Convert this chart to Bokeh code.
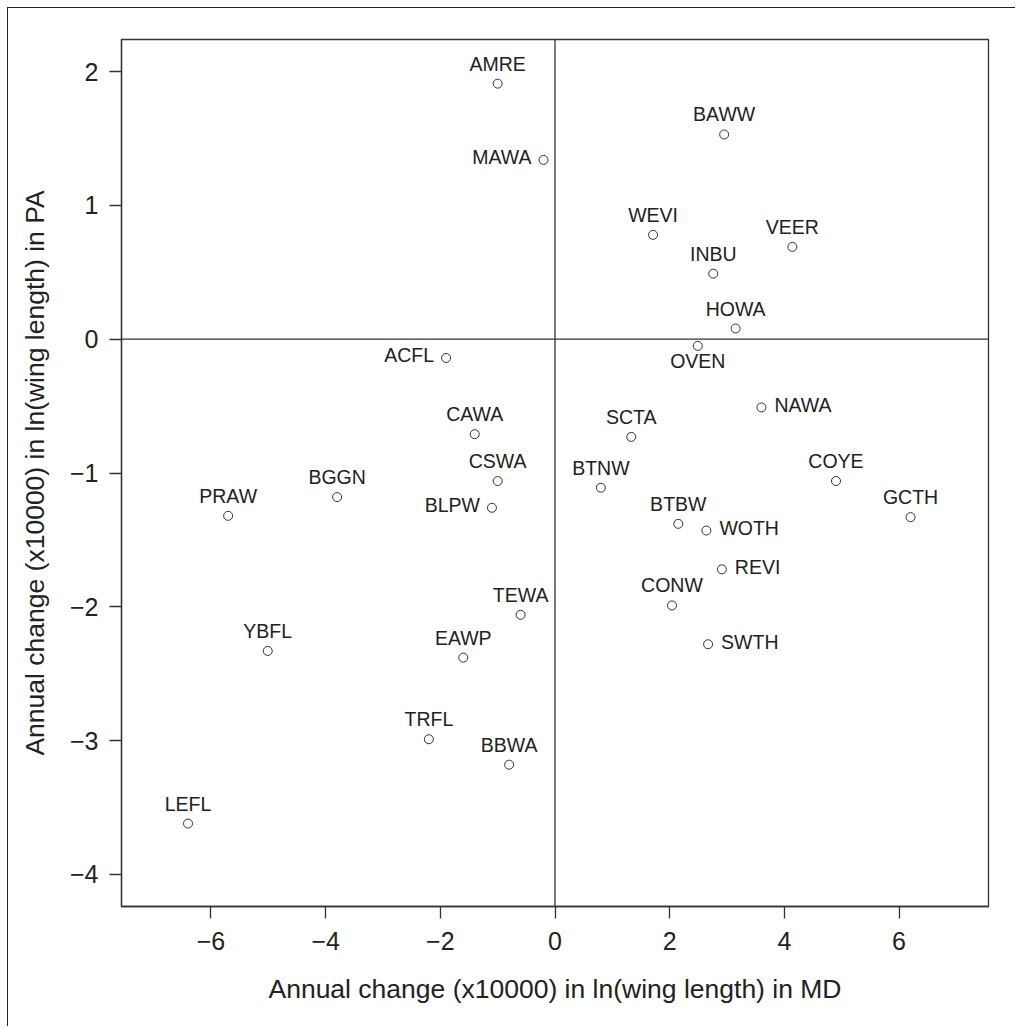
from bokeh.plotting import figure
from bokeh.models import ColumnDataSource, Range1d, Span, FixedTicker
from bokeh.embed import file_html
from bokeh.resources import INLINE
from bokeh.core.properties import value

species = ["AMRE", "MAWA", "BAWW", "WEVI", "VEER", "INBU", "HOWA", "OVEN", "ACFL", "NAWA",
           "SCTA", "CAWA", "CSWA", "BTNW", "COYE", "GCTH", "PRAW", "BGGN", "BLPW", "BTBW",
           "WOTH", "REVI", "CONW", "TEWA", "YBFL", "EAWP", "SWTH", "TRFL", "BBWA", "LEFL"]
md_change = [-1.00, -0.20, 2.95, 1.71, 4.14, 2.76, 3.15, 2.49, -1.90, 3.60,
             1.33, -1.40, -1.00, 0.80, 4.90, 6.20, -5.70, -3.80, -1.10, 2.15,
             2.64, 2.91, 2.04, -0.60, -5.01, -1.60, 2.67, -2.20, -0.80, -6.40]
pa_change = [1.91, 1.34, 1.53, 0.78, 0.69, 0.49, 0.08, -0.05, -0.14, -0.51,
             -0.73, -0.71, -1.06, -1.11, -1.06, -1.33, -1.32, -1.18, -1.26, -1.38,
             -1.43, -1.72, -1.99, -2.06, -2.33, -2.38, -2.28, -2.99, -3.18, -3.62]
label_side = ["above", "left", "above", "above", "above", "above", "above", "below", "left", "right",
              "above", "above", "above", "above", "above", "above", "above", "above", "left", "above",
              "right", "right", "above", "above", "above", "above", "right", "above", "above", "above"]
x_ticks = [-6, -4, -2, 0, 2, 4, 6]
y_ticks = [-4, -3, -2, -1, 0, 1, 2]

FONT = "Liberation Sans"
INK = "#333333"

offsets = {"above": (0, -20, "center"), "below": (0, 15, "center"),
           "left": (-12, -2.5, "right"), "right": (13, -2.5, "left")}
xo = [offsets[s][0] for s in label_side]
yo = [offsets[s][1] for s in label_side]
al = [offsets[s][2] for s in label_side]

src = ColumnDataSource(dict(x=md_change, y=pa_change, name=species, xo=xo, yo=yo, al=al))

p = figure(width=1008, height=1019, output_backend="svg", toolbar_location=None,
           x_range=Range1d(-7.56, 7.56), y_range=Range1d(-4.24, 2.24),
           min_border_left=113, min_border_right=28, min_border_top=31, min_border_bottom=121)
p.background_fill_color = "white"
p.border_fill_color = "white"
p.grid.visible = False
p.outline_line_color = INK
p.outline_line_width = 1.3
p.styles = {"margin-left": "7px", "margin-top": "7px",
            "border-top": "1px solid #222", "border-left": "1px solid #222"}

p.add_layout(Span(location=0, dimension="height", line_color=INK, line_width=1.3))
p.add_layout(Span(location=0, dimension="width", line_color=INK, line_width=1.3))

p.scatter("x", "y", source=src, marker="circle", size=9, fill_color=None,
          line_color=INK, line_width=1)
p.text("x", "y", text="name", source=src, x_offset="xo", y_offset="yo", text_align="al",
       text_baseline="alphabetic", text_font=value(FONT), text_font_size="19.5px",
       text_color="#222222")

def fmt(v):
    return ("\u2212" + str(abs(v))) if v < 0 else str(v)

for ax, ticks in ((p.xaxis[0], x_ticks), (p.yaxis[0], y_ticks)):
    ax.ticker = FixedTicker(ticks=ticks)
    ax.major_label_overrides = {t: fmt(t) for t in ticks}
    ax.axis_line_color = INK
    ax.axis_line_width = 1.3
    ax.major_tick_line_color = INK
    ax.major_tick_line_width = 1.3
    ax.major_tick_out = 12
    ax.major_tick_in = 0
    ax.minor_tick_line_color = None
    ax.major_label_text_font = FONT
    ax.major_label_text_font_size = "25px"
    ax.major_label_text_color = "#222222"
    ax.axis_label_text_font = FONT
    ax.axis_label_text_font_size = "26.5px"
    ax.axis_label_text_font_style = "normal"
    ax.axis_label_text_color = "#222222"

p.xaxis.axis_label = "Annual change (x10000) in ln(wing length) in MD"
p.yaxis.axis_label = "Annual change (x10000) in ln(wing length) in PA"
p.yaxis.major_label_orientation = "horizontal"
p.xaxis.major_label_standoff = 13
p.yaxis.major_label_standoff = 11
p.xaxis.axis_label_standoff = 21
p.yaxis.axis_label_standoff = 17

open("out.html", "w").write(file_html(p, INLINE))
